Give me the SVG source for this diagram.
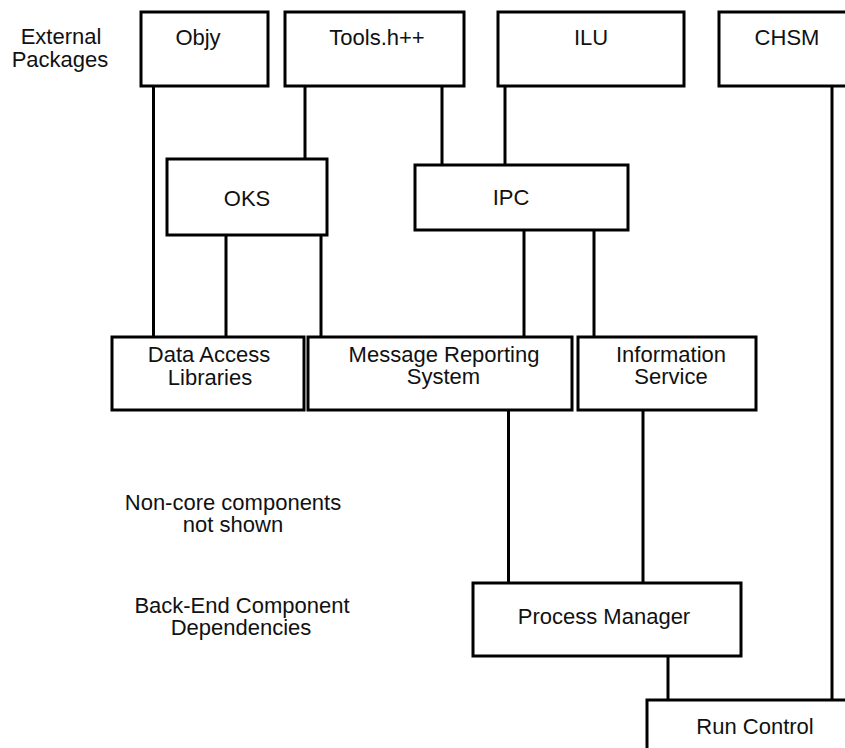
<svg xmlns="http://www.w3.org/2000/svg" width="845" height="748" viewBox="0 0 845 748">
<style>
.box{fill:#fff;stroke:#000;stroke-width:3}
.ln{stroke:#000;stroke-width:3;fill:none}
text{font-family:"Liberation Sans",Arial,sans-serif;font-size:22px;fill:#111;text-anchor:middle}
</style>
<rect width="845" height="748" fill="#fff"/>
<g id="connectors">
<line class="ln" x1="153.5" y1="86" x2="153.5" y2="337"/>
<line class="ln" x1="305" y1="86" x2="305" y2="159"/>
<line class="ln" x1="442" y1="86" x2="442" y2="165"/>
<line class="ln" x1="505" y1="86" x2="505" y2="165"/>
<line class="ln" x1="226" y1="235" x2="226" y2="337"/>
<line class="ln" x1="321" y1="235" x2="321" y2="337"/>
<line class="ln" x1="524" y1="230" x2="524" y2="337"/>
<line class="ln" x1="594" y1="230" x2="594" y2="337"/>
<line class="ln" x1="508.5" y1="410" x2="508.5" y2="583"/>
<line class="ln" x1="643" y1="410" x2="643" y2="583"/>
<line class="ln" x1="668" y1="656" x2="668" y2="700"/>
<line class="ln" x1="832" y1="86" x2="832" y2="700"/>
</g>
<g id="labels">
<text x="61" y="44">External</text>
<text x="60" y="67">Packages</text>
<text x="233" y="510">Non-core components</text>
<text x="233" y="532">not shown</text>
<text x="242" y="613">Back-End Component</text>
<text x="241" y="635">Dependencies</text>
</g>
<g id="objy"><rect class="box" x="141" y="12" width="127" height="74"/><text x="198" y="45">Objy</text></g>
<g id="tools"><rect class="box" x="285" y="12" width="179" height="74"/><text x="377" y="45">Tools.h++</text></g>
<g id="ilu"><rect class="box" x="498" y="12" width="186" height="74"/><text x="591" y="45">ILU</text></g>
<g id="chsm"><rect class="box" x="719" y="12" width="140" height="74"/><text x="787" y="45">CHSM</text></g>
<g id="oks"><rect class="box" x="167" y="159" width="160" height="76"/><text x="247" y="206">OKS</text></g>
<g id="ipc"><rect class="box" x="415" y="165" width="213" height="65"/><text x="511" y="205">IPC</text></g>
<g id="dal"><rect class="box" x="112" y="337" width="192" height="73"/><text x="209" y="362">Data Access</text><text x="210" y="385">Libraries</text></g>
<g id="mrs"><rect class="box" x="308" y="337" width="264" height="73"/><text x="444" y="362">Message Reporting</text><text x="443.5" y="384">System</text></g>
<g id="is"><rect class="box" x="578" y="337" width="178" height="73"/><text x="671" y="362">Information</text><text x="671" y="384">Service</text></g>
<g id="pm"><rect class="box" x="473" y="583" width="268" height="73"/><text x="604" y="624">Process Manager</text></g>
<g id="rc"><rect class="box" x="647" y="700" width="220" height="70"/><text x="755" y="734">Run Control</text></g>
</svg>
